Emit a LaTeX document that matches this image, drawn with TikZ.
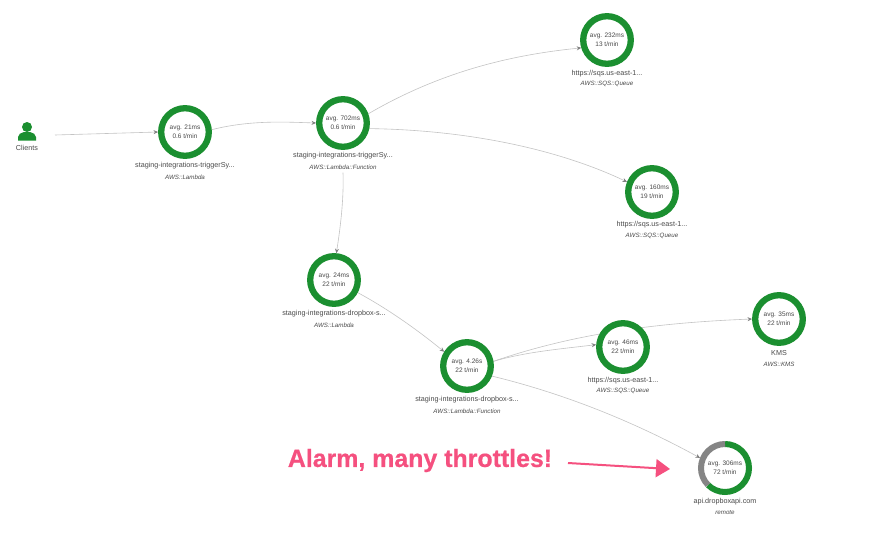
\documentclass[tikz,border=0pt]{standalone}
\usepackage{fontspec}
\setmainfont{Liberation Sans}
\usetikzlibrary{arrows.meta,backgrounds}
\definecolor{ringgreen}{HTML}{1B8F30}
\definecolor{ringgray}{HTML}{858585}
\definecolor{txt}{HTML}{4A4A4A}
\definecolor{edgec}{HTML}{C4C4C4}
\definecolor{tipc}{HTML}{808080}
\definecolor{alarm}{HTML}{F5507F}
\tikzset{
  svc/.style={circle,draw=ringgreen,fill=white,line width=6.3pt,minimum size=47.6pt,inner sep=0pt,
    align=center,text=txt,font=\fontsize{6.5}{9}\selectfont},
  svcbare/.style={svc,draw=none},
  lab/.style={text=txt,inner sep=0pt,font=\fontsize{7.2}{8}\selectfont},
  typ/.style={text=txt,inner sep=0pt,font=\fontsize{6.2}{8}\selectfont\itshape},
  conn/.style={draw=edgec,line width=0.6pt,-{Stealth[length=4.5pt,width=4pt,color=tipc]}},
}
\begin{document}
\begin{tikzpicture}[x=1pt,y=-1pt]
\useasboundingbox (0,0) rectangle (880,541);

% free-end coordinates
\coordinate (cstart) at (55,135);
\coordinate (astart) at (568,463);
\coordinate (aend) at (670,469);

\node[svc] (n1) at (185,132) {avg. 21ms\\0.6 t/min};
\node[svc] (n2) at (343,123) {avg. 702ms\\0.6 t/min};
\node[svc] (n3) at (607,40) {avg. 232ms\\13 t/min};
\node[svc] (n4) at (652,192) {avg. 160ms\\19 t/min};
\node[svc] (n5) at (334,280) {avg. 24ms\\22 t/min};
\node[svc] (n6) at (467,366) {avg. 4.26s\\22 t/min};
\node[svc] (n7) at (623,347) {avg. 46ms\\22 t/min};
\node[svc] (n8) at (779,319) {avg. 35ms\\22 t/min};
\node[svcbare] (n9) at (725,468) {avg. 306ms\\72 t/min};
\draw[ringgreen,line width=6pt] (n9.center) ++(90:24pt) arc[start angle=90,end angle=-135,radius=24pt];
\draw[ringgray,line width=6pt] (n9.center) ++(90:24pt) arc[start angle=90,end angle=225,radius=24pt];

% person icon
\node[inner sep=0pt,minimum width=18pt,minimum height=18pt] (cl) at (27,131) {};
\fill[ringgreen] (27,127) circle[radius=5pt];
\fill[ringgreen] (18,140.5) -- (18,137) .. controls (18,134) and (21,133) .. (24,132) -- (30,132) .. controls (33,133) and (36,134) .. (36,137) -- (36,140.5) -- cycle;
\node[lab] (clt) at (27,148) {Clients};

% labels
\node[lab] (n1a) at (185,166) {staging-integrations-triggerSy...};
\node[typ] (n1b) at (185,177) {AWS::Lambda};
\node[lab] (n2a) at (343,156) {staging-integrations-triggerSy...};
\node[typ] (n2b) at (343,167) {AWS::Lambda::Function};
\node[lab] (n3a) at (607,74) {https://sqs.us-east-1...};
\node[typ] (n3b) at (607,84) {AWS::SQS::Queue};
\node[lab] (n4a) at (652,225) {https://sqs.us-east-1...};
\node[typ] (n4b) at (652,236) {AWS::SQS::Queue};
\node[lab] (n5a) at (334,314) {staging-integrations-dropbox-s...};
\node[typ] (n5b) at (334,325) {AWS::Lambda};
\node[lab] (n6a) at (467,400) {staging-integrations-dropbox-s...};
\node[typ] (n6b) at (467,411) {AWS::Lambda::Function};
\node[lab] (n7a) at (623,381) {https://sqs.us-east-1...};
\node[typ] (n7b) at (623,391) {AWS::SQS::Queue};
\node[lab] (n8a) at (779,353) {KMS};
\node[typ] (n8b) at (779,364) {AWS::KMS};
\node[lab] (n9a) at (725,502) {api.dropboxapi.com};
\node[typ] (n9b) at (725,513) {remote};

% connectors lie behind the rings
\begin{scope}[on background layer]
\fill[white] (0,0) rectangle (880,541);
\draw[conn] (cstart) -- (n1.180);
\draw[conn] (n1.5) .. controls (250,120) and (285,122) .. (n2.180);
\draw[conn] (n2.20) .. controls (440,72) and (510,55) .. (n3.197);
\draw[conn] (n2.-12) .. controls (470,130) and (560,150) .. (n4.158);
\draw[conn] (n2a.south -| n2.south) ++(0,13) .. controls (344,200) and (340,230) .. (n5.85);
\draw[conn] (n5.-28) .. controls (390,310) and (420,332) .. (n6.148);
\draw[conn] (n6.10) .. controls (525,352) and (560,349) .. (n7.175);
\draw[conn] (n6.10) .. controls (570,335) and (650,323) .. (n8.180);
\draw[conn] (n6.-22) .. controls (570,395) and (640,425) .. (n9.158);
\end{scope}

% callout
\node[inner sep=0pt,text=alarm,font=\fontsize{24.9}{28}\selectfont\bfseries\addfontfeature{FakeBold=0.6}] (alarmt) at (420,460.5) {Alarm, many throttles!};
\draw[alarm,line width=2pt,-{Triangle[length=14pt,width=18pt]}] (astart) -- (aend);
\end{tikzpicture}
\end{document}
